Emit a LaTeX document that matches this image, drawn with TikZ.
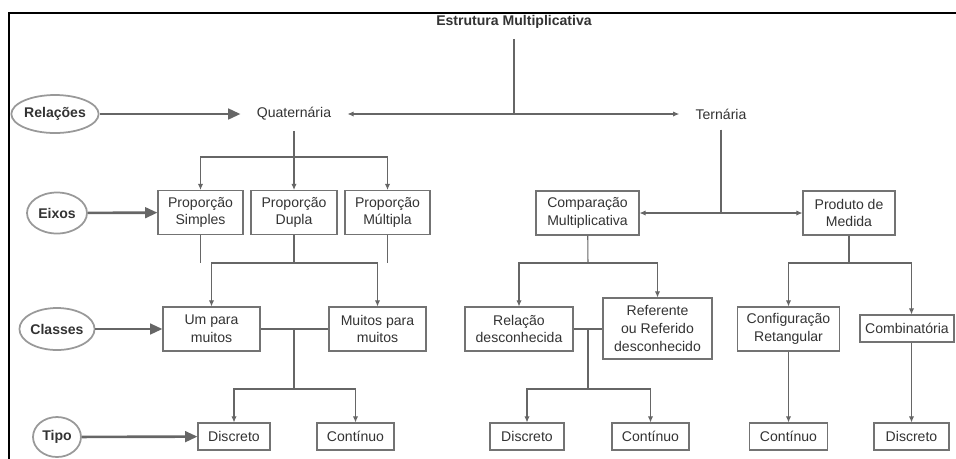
\documentclass[tikz,border=0pt]{standalone}
\usepackage{fontspec}
\setmainfont{Liberation Sans}
\usetikzlibrary{positioning,shapes.geometric,arrows.meta}

\begin{document}
\begin{tikzpicture}[x=0.02cm,y=-0.02cm,
	font=\fontsize{8}{10}\selectfont,text=black!80,
	box/.style={draw=black!55,line width=0.6pt,align=center,inner sep=0pt,minimum height=0.88cm},
	lbl/.style={inner xsep=0.32cm,inner ysep=0.2cm},
	eixo/.style={ellipse,draw=black!40,line width=1pt,inner sep=0pt,font=\fontsize{8}{10}\selectfont\bfseries},
	big/.style={-{Triangle[length=7pt,width=6pt]},line width=1.5pt,draw=black!60},
	ln/.style={draw=black!60,line width=0.6pt},
	arr/.style={ln,-{Latex[length=3.5pt,width=3pt]}},
	arrr/.style={ln,{Latex[length=3.5pt,width=3pt]}-{Latex[length=3.5pt,width=3pt]}}]
	\useasboundingbox (0,0) rectangle (956,458);
	\draw[line width=1.1pt] (9,460) -- (9,13) -- (960,13);
	
	\node[lbl,font=\fontsize{8}{10}\selectfont\bfseries] (tit) at (514,22) {Estrutura Multiplicativa};
	\node[lbl] (quat) at (294,114) {Quaternária};
	\node[lbl] (ter) at (721,114) {Ternária};
	
	% eixos da esquerda
	\node[eixo,minimum width=1.66cm,minimum height=0.76cm] (rel) at (55,114) {Relações};
	\node[eixo,minimum width=1.2cm,minimum height=0.82cm] (eix) at (57,213) {Eixos};
	\node[eixo,minimum width=1.46cm,minimum height=0.84cm] (cla) at (57,329) {Classes};
	\node[eixo,minimum width=0.96cm,minimum height=0.8cm] (tip) at (57,437) {Tipo};
	
	\node[box,minimum width=1.7cm] (simp) at (200.5,212.5) {Proporção\\Simples};
	\node[box,minimum width=1.72cm] (dup) at (294,212.5) {Proporção\\Dupla};
	\node[box,minimum width=1.7cm] (mul) at (387.5,212.5) {Proporção\\Múltipla};
	\node[box,minimum width=2.06cm] (comp) at (587.5,213) {Comparação\\Multiplicativa};
	\node[box,minimum width=1.84cm] (prod) at (849,213) {Produto de\\Medida};
	
	\node[box,minimum width=1.94cm] (umm) at (211.5,329) {Um para\\muitos};
	\node[box,minimum width=1.94cm] (mpm) at (377.5,329) {Muitos para\\muitos};
	\node[box,minimum width=2.16cm] (reld) at (519,329) {Relação\\desconhecida};
	\node[box,minimum width=2.18cm,minimum height=1.22cm] (ref) at (657.5,328.5) {Referente\\ou Referido\\desconhecido};
	\node[box,minimum width=2.04cm] (conf) at (788.5,329) {Configuração\\Retangular};
	\node[box,minimum width=1.88cm,minimum height=0.54cm] (comb) at (907,328.5) {Combinatória};
	
	\node[box,minimum width=1.44cm,minimum height=0.54cm] (d1) at (234,436.5) {Discreto};
	\node[box,minimum width=1.54cm,minimum height=0.54cm] (c1) at (355.5,436.5) {Contínuo};
	\node[box,minimum width=1.48cm,minimum height=0.54cm] (d2) at (527,436.5) {Discreto};
	\node[box,minimum width=1.54cm,minimum height=0.54cm] (c2) at (650.5,436.5) {Contínuo};
	\node[box,minimum width=1.56cm,minimum height=0.54cm] (c3) at (788.5,436.5) {Contínuo};
	\node[box,minimum width=1.5cm,minimum height=0.54cm] (d4) at (911.5,436.5) {Discreto};
	
	\coordinate (j0) at (294,157);
	\coordinate (j1) at (294,263);
	\coordinate (m1) at (294,329);
	\coordinate (j2) at (294,389);
	\coordinate (j3) at (588,263);
	\coordinate (m2) at (588,329);
	\coordinate (j4) at (588,389);
	\coordinate (j5) at (849,263);
	
	\draw[big] (rel) -- (quat);
	\draw[big] (eix) -- (simp);
	\draw[big] (cla) -- (umm);
	\draw[big] (tip) -- (d1);
	
	\draw[ln] (tit) -- (tit |- quat);
	\draw[arrr] (quat) -- (ter);
	\draw[arr] (quat) -- (dup);
	\draw[arr] (j0) -| (simp);
	\draw[arr] (j0) -| (mul);
	\draw[ln] (ter) -- (ter |- comp);
	\draw[arrr] (comp) -- (prod);
	
	% quaternaria
	\draw[ln] (simp) -- (simp |- j1) (dup) -- (j1) (mul) -- (mul |- j1);
	\draw[arr] (j1) -| (umm);
	\draw[arr] (j1) -| (mpm);
	\draw[ln] (umm) -- (mpm) (m1) -- (j2);
	\draw[arr] (j2) -| (d1);
	\draw[arr] (j2) -| (c1);
	
	% ternaria
	\draw[ln] (comp) -- (j3);
	\draw[arr] (j3) -| (reld);
	\draw[arr] (j3) -| (ref);
	\draw[ln] (reld.east) -- (reld.east -| ref.west) (m2) -- (j4);
	\draw[arr] (j4) -| (d2);
	\draw[arr] (j4) -| (c2);
	\draw[ln] (prod) -- (j5);
	\draw[arr] (j5) -| (conf);
	\draw[arr] (j5) -| (d4 |- comb.north);
	\draw[arr] (conf) -- (c3);
	\draw[arr] (comb.south -| d4) -- (d4);
\end{tikzpicture}
\end{document}
